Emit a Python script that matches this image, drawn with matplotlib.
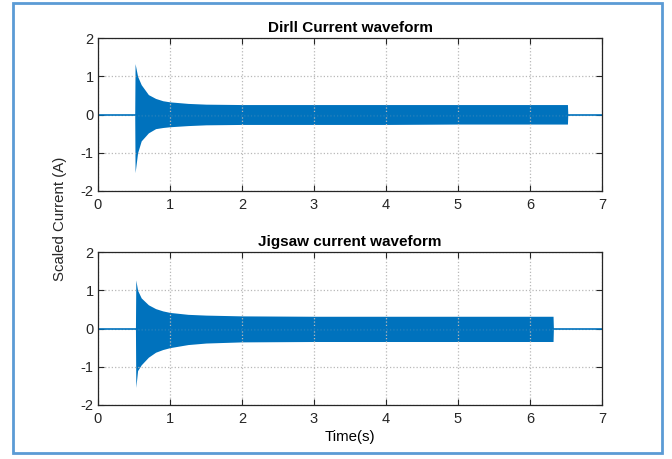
import matplotlib.pyplot as plt
from matplotlib.patches import Rectangle

plt.rcParams['font.family'] = ['Liberation Sans', 'DejaVu Sans']
plt.rcParams['axes.unicode_minus'] = False

# envelope of the drill current
drill_t = [0.0, 0.51, 0.515, 0.55, 0.6, 0.7, 0.8, 0.9, 1.0, 1.25, 1.5, 2.0, 3.0, 4.0, 5.0, 6.0, 6.52, 6.525, 7.0]
drill_hi = [0.0, 0.0, 1.33, 1.0, 0.78, 0.52, 0.42, 0.36, 0.33, 0.29, 0.27, 0.26, 0.26, 0.26, 0.26, 0.26, 0.26, 0.0, 0.0]
drill_lo = [0.0, 0.0, -1.52, -1.0, -0.69, -0.48, -0.37, -0.34, -0.32, -0.29, -0.27, -0.26, -0.26, -0.26, -0.25, -0.25, -0.25, 0.0, 0.0]

# envelope of the jigsaw current
jig_t = [0.0, 0.52, 0.525, 0.55, 0.6, 0.7, 0.8, 0.9, 1.0, 1.25, 1.5, 2.0, 3.0, 4.0, 5.0, 6.0, 6.32, 6.325, 7.0]
jig_hi = [0.0, 0.0, 1.27, 1.0, 0.8, 0.62, 0.52, 0.46, 0.42, 0.37, 0.35, 0.33, 0.32, 0.32, 0.32, 0.32, 0.32, 0.0, 0.0]
jig_lo = [0.0, 0.0, -1.54, -1.1, -0.95, -0.75, -0.62, -0.55, -0.5, -0.42, -0.38, -0.35, -0.34, -0.34, -0.34, -0.34, -0.34, 0.0, 0.0]

titles = ['Dirll Current waveform', 'Jigsaw current waveform']
blue = '#0072bd'

fig = plt.figure(figsize=(6.72, 4.59), dpi=100)
ax1 = fig.add_axes([98 / 672, 1 - 191 / 459, 504 / 672, 153 / 459])
ax2 = fig.add_axes([98 / 672, 1 - 405 / 459, 504 / 672, 153 / 459])

for ax, t, hi, lo, title in [(ax1, drill_t, drill_hi, drill_lo, titles[0]),
                             (ax2, jig_t, jig_hi, jig_lo, titles[1])]:
    ax.fill_between(t, lo, hi, color=blue, linewidth=0)
    ax.plot(t, [0] * len(t), color=blue, linewidth=1.2)
    ax.set_xlim(0, 7)
    ax.set_ylim(-2, 2)
    ax.set_xticks(range(0, 8))
    ax.set_yticks([-2, -1, 0, 1, 2])
    ax.grid(True, color='#b8b8b8', linestyle=':', linewidth=0.9)
    ax.tick_params(direction='in', top=True, right=True, labelsize=10.5,
                   length=4, width=0.8, pad=3, colors='#262626')
    ax.tick_params(axis='x', pad=5)
    for s in ax.spines.values():
        s.set_linewidth(0.9)
        s.set_color('#262626')
    ax.set_title(title, fontsize=11, fontweight='bold', pad=4)

ax2.set_xlabel('Time(s)', fontsize=10.8, labelpad=3)
fig.text(60 / 672, 1 - 219 / 459, 'Scaled Current (A)', rotation=90,
         ha='center', va='center', fontsize=10.8, color='#262626')

fig.patches.append(Rectangle((13 / 672, 1 - 453 / 459), 649 / 672, 450 / 459,
                             transform=fig.transFigure, fill=False,
                             edgecolor='#5b9bd5', linewidth=2))

fig.savefig('out.png', dpi=100)
